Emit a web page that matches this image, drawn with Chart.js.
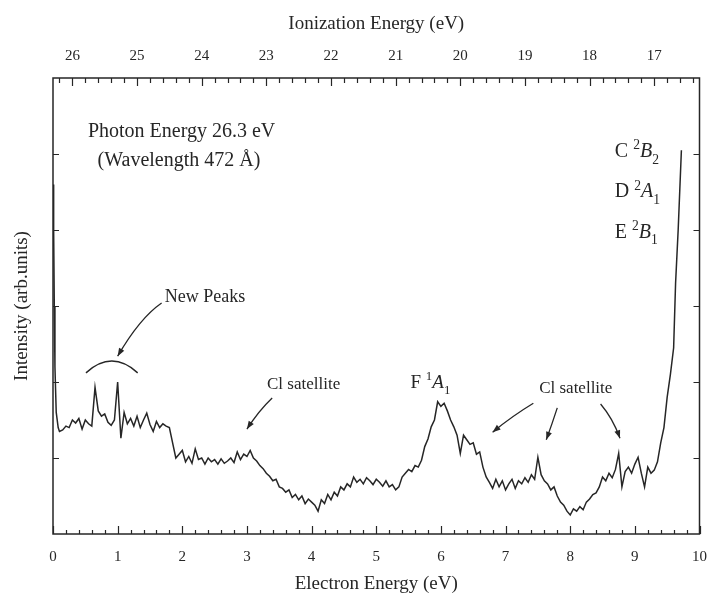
<!DOCTYPE html>
<html>
<head>
<meta charset="utf-8">
<script src="https://cdn.jsdelivr.net/npm/chart.js@4.4.1/dist/chart.umd.min.js"></script>
<style>
  html, body { margin: 0; padding: 0; background: #ffffff; }
  #wrap { width: 713px; height: 599px; }
</style>
</head>
<body>
<div id="wrap"><canvas id="c" width="713" height="599"></canvas></div>
<script>
// Photoelectron spectrum, photon energy 26.3 eV
const photonEnergy = 26.3;

const electronEnergy = [
  0.00, 0.01, 0.02, 0.03, 0.05, 0.08,
  0.10, 0.15, 0.20, 0.25, 0.30, 0.35, 0.40, 0.45, 0.50, 0.55, 0.60, 0.65, 0.70, 0.75,
  0.80, 0.85, 0.90, 0.95, 1.00, 1.05, 1.10, 1.15, 1.20, 1.25, 1.30, 1.35, 1.40, 1.45,
  1.50, 1.55, 1.60, 1.65, 1.70, 1.75, 1.80, 1.85, 1.90, 1.95, 2.00, 2.05, 2.10, 2.15,
  2.20, 2.25, 2.30, 2.35, 2.40, 2.45, 2.50, 2.55, 2.60, 2.65, 2.70, 2.75, 2.80, 2.85,
  2.90, 2.95, 3.00, 3.05, 3.10, 3.15, 3.20, 3.25, 3.30, 3.35, 3.40, 3.45, 3.50, 3.55,
  3.60, 3.65, 3.70, 3.75, 3.80, 3.85, 3.90, 3.95, 4.00, 4.05, 4.10, 4.15, 4.20, 4.25,
  4.30, 4.35, 4.40, 4.45, 4.50, 4.55, 4.60, 4.65, 4.70, 4.75, 4.80, 4.85, 4.90, 4.95,
  5.00, 5.05, 5.10, 5.15, 5.20, 5.25, 5.30, 5.35, 5.40, 5.45, 5.50, 5.55, 5.60, 5.65,
  5.70, 5.75, 5.80, 5.85, 5.90, 5.95, 6.00, 6.05, 6.10, 6.15, 6.20, 6.25, 6.30, 6.35,
  6.40, 6.45, 6.50, 6.55, 6.60, 6.65, 6.70, 6.75, 6.80, 6.85, 6.90, 6.95, 7.00, 7.05,
  7.10, 7.15, 7.20, 7.25, 7.30, 7.35, 7.40, 7.45, 7.50, 7.55, 7.60, 7.65, 7.70, 7.75,
  7.80, 7.85, 7.90, 7.95, 8.00, 8.05, 8.10, 8.15, 8.20, 8.25, 8.30, 8.35, 8.40, 8.45,
  8.50, 8.55, 8.60, 8.65, 8.70, 8.75, 8.80, 8.85, 8.90, 8.95, 9.00, 9.05, 9.10, 9.15,
  9.20, 9.25, 9.30, 9.35, 9.40, 9.45, 9.50, 9.55, 9.60, 9.63, 9.67, 9.72
];

const intensity = [
  4.60, 4.00, 3.00, 2.20, 1.60, 1.40,
  1.35, 1.37, 1.42, 1.40, 1.50, 1.46, 1.52, 1.38, 1.50, 1.45, 1.42, 1.93, 1.62, 1.55,
  1.58, 1.47, 1.43, 1.50, 2.00, 1.26, 1.60, 1.45, 1.52, 1.42, 1.55, 1.40, 1.50, 1.59,
  1.44, 1.35, 1.48, 1.40, 1.45, 1.42, 1.40, 1.20, 1.00, 1.05, 1.10, 0.95, 1.02, 0.93,
  1.12, 0.98, 1.00, 0.92, 1.00, 0.95, 0.98, 0.92, 0.99, 0.93, 0.96, 1.00, 0.94, 1.08,
  0.98, 1.05, 1.02, 1.10, 1.00, 0.96, 0.90, 0.86, 0.80, 0.76, 0.70, 0.72, 0.62, 0.60,
  0.55, 0.58, 0.48, 0.52, 0.45, 0.50, 0.40, 0.46, 0.42, 0.38, 0.30, 0.45, 0.40, 0.52,
  0.45, 0.55, 0.50, 0.62, 0.58, 0.66, 0.62, 0.75, 0.68, 0.72, 0.66, 0.74, 0.70, 0.65,
  0.72, 0.68, 0.63, 0.70, 0.62, 0.65, 0.58, 0.62, 0.75, 0.80, 0.85, 0.82, 0.90, 0.88,
  0.97, 1.15, 1.25, 1.41, 1.50, 1.74, 1.68, 1.72, 1.62, 1.50, 1.41, 1.30, 1.06, 1.30,
  1.24, 1.18, 1.20, 1.05, 1.08, 0.88, 0.75, 0.68, 0.60, 0.72, 0.62, 0.70, 0.58, 0.66,
  0.72, 0.60, 0.70, 0.66, 0.74, 0.68, 0.78, 0.72, 1.01, 0.78, 0.70, 0.66, 0.58, 0.62,
  0.50, 0.42, 0.38, 0.30, 0.25, 0.33, 0.30, 0.36, 0.32, 0.42, 0.46, 0.52, 0.54, 0.62,
  0.75, 0.70, 0.80, 0.74, 0.85, 1.06, 0.62, 0.82, 0.88, 0.80, 0.92, 1.01, 0.80, 0.62,
  0.88, 0.80, 0.84, 0.95, 1.20, 1.40, 1.80, 2.10, 2.45, 3.30, 4.00, 5.05
];

const electronTicks = [0, 1, 2, 3, 4, 5, 6, 7, 8, 9, 10];
const ionizationTicks = [26, 25, 24, 23, 22, 21, 20, 19, 18, 17];
const intensityTicks = [1, 2, 3, 4, 5];

const INK = '#262626';
const SERIF = '"Liberation Serif", "DejaVu Serif", serif';

// Frame, inward tick marks and the figure's annotations
const figurePlugin = {
  id: 'figure',
  afterDraw(chart) {
    const ctx = chart.ctx;
    const xs = chart.scales.x, xt = chart.scales.x2, ys = chart.scales.y;
    const a = chart.chartArea;
    const X = e => xs.getPixelForValue(e);
    const Y = v => ys.getPixelForValue(v);

    ctx.save();
    ctx.strokeStyle = INK;
    ctx.fillStyle = INK;
    ctx.lineWidth = 1.5;
    ctx.strokeRect(a.left, a.top, a.right - a.left, a.bottom - a.top);

    ctx.lineWidth = 1.2;
    ctx.beginPath();
    // bottom axis: major every 1 eV, minor every 0.2 eV
    for (let i = 0; i <= 50; i++) {
      const e = i * 0.2;
      const len = (i % 5 === 0) ? 8 : 4;
      const px = Math.round(X(e)) + 0.5;
      ctx.moveTo(px, a.bottom); ctx.lineTo(px, a.bottom - len);
    }
    // top axis (ionization energy): major every 1 eV, minor every 0.2 eV
    for (let i = 0; i <= 50; i++) {
      const ie = 17 + (i - 3) * 0.2;
      if (ie > photonEnergy || ie < photonEnergy - 10) continue;
      const major = Math.abs(ie - Math.round(ie)) < 1e-6;
      const len = major ? 8 : 5;
      const px = Math.round(xt.getPixelForValue(ie)) + 0.5;
      ctx.moveTo(px, a.top); ctx.lineTo(px, a.top + len);
    }
    // left and right intensity ticks
    intensityTicks.forEach(v => {
      const py = Math.round(Y(v)) + 0.5;
      ctx.moveTo(a.left, py); ctx.lineTo(a.left + 6, py);
      ctx.moveTo(a.right, py); ctx.lineTo(a.right - 6, py);
    });
    ctx.stroke();

    const text = (s, e, v, size, align) => {
      ctx.font = size + 'px ' + SERIF;
      ctx.textAlign = align || 'left';
      ctx.textBaseline = 'middle';
      ctx.fillText(s, X(e), Y(v));
    };

    // rich text with superscripts, italics and subscripts
    const rich = (parts, e, v, size) => {
      let x = X(e);
      const y = Y(v);
      ctx.textAlign = 'left';
      ctx.textBaseline = 'middle';
      parts.forEach(p => {
        let fs = size, dy = 0, style = '';
        if (p.sup) { fs = size * 0.68; dy = -size * 0.3; }
        if (p.sub) { fs = size * 0.68; dy = size * 0.42; }
        if (p.it) style = 'italic ';
        ctx.font = style + fs + 'px ' + SERIF;
        ctx.fillText(p.t, x, y + dy);
        x += ctx.measureText(p.t).width + (p.gap || 0);
      });
    };

    const arrowHead = (x0, y0, x1, y1) => {
      const ang = Math.atan2(y1 - y0, x1 - x0);
      const L = 8, W = 3;
      ctx.beginPath();
      ctx.moveTo(x1, y1);
      ctx.lineTo(x1 - L * Math.cos(ang) + W * Math.sin(ang), y1 - L * Math.sin(ang) - W * Math.cos(ang));
      ctx.lineTo(x1 - L * Math.cos(ang) - W * Math.sin(ang), y1 - L * Math.sin(ang) + W * Math.cos(ang));
      ctx.closePath();
      ctx.fill();
    };

    const arrow = (e0, v0, ec, vc, e1, v1) => {
      const x0 = X(e0), y0 = Y(v0), xc = X(ec), yc = Y(vc), x1 = X(e1), y1 = Y(v1);
      ctx.lineWidth = 1.3;
      ctx.beginPath();
      ctx.moveTo(x0, y0);
      ctx.quadraticCurveTo(xc, yc, x1, y1);
      ctx.stroke();
      arrowHead(xc, yc, x1, y1);
    };

    ctx.fillStyle = INK;
    text('Photon Energy 26.3 eV', 0.54, 5.29, 20);
    text('(Wavelength 472 \u00C5)', 0.69, 4.91, 20);

    // New peaks: bracket over the two peaks and a pointer
    text('New Peaks', 1.73, 3.12, 18);
    ctx.lineWidth = 1.4;
    ctx.beginPath();
    ctx.moveTo(X(0.51), Y(2.12));
    ctx.quadraticCurveTo(X(0.91), Y(2.43), X(1.31), Y(2.12));
    ctx.stroke();
    arrow(1.68, 3.04, 1.34, 2.84, 1.0, 2.34);

    text('Cl satellite', 3.31, 1.97, 17);
    arrow(3.39, 1.79, 3.18, 1.62, 3.0, 1.38);

    rich([{ t: 'F ' }, { t: '1', sup: true }, { t: 'A', it: true }, { t: '1', sub: true }], 5.53, 1.99, 19);

    text('Cl satellite', 7.52, 1.91, 17);
    arrow(7.43, 1.72, 7.10, 1.55, 6.80, 1.34);
    arrow(7.80, 1.66, 7.72, 1.45, 7.63, 1.24);
    arrow(8.47, 1.71, 8.66, 1.52, 8.77, 1.26);

    rich([{ t: 'C ' }, { t: '2', sup: true }, { t: 'B', it: true }, { t: '2', sub: true }], 8.69, 5.03, 20);
    rich([{ t: 'D ' }, { t: '2', sup: true }, { t: 'A', it: true }, { t: '1', sub: true }], 8.69, 4.50, 20);
    rich([{ t: 'E ' }, { t: '2', sup: true }, { t: 'B', it: true }, { t: '1', sub: true }], 8.69, 3.97, 20);

    ctx.restore();
  }
};

const points = electronEnergy.map((e, i) => ({ x: e, y: intensity[i] }));

new Chart(document.getElementById('c'), {
  type: 'line',
  data: {
    datasets: [{
      data: points,
      borderColor: INK,
      borderWidth: 1.5,
      pointRadius: 0,
      tension: 0,
      fill: false
    }]
  },
  options: {
    responsive: false,
    animation: false,
    devicePixelRatio: 1,
    layout: { padding: { left: 0, right: 11, top: 0, bottom: 0 } },
    plugins: { legend: { display: false }, tooltip: { enabled: false } },
    scales: {
      x: {
        type: 'linear',
        position: 'bottom',
        min: 0, max: 10,
        grid: { display: false },
        border: { display: false },
        afterBuildTicks: s => { s.ticks = electronTicks.map(v => ({ value: v })); },
        afterFit: s => { s.height = 65; },
        ticks: { color: INK, font: { family: SERIF, size: 15 }, padding: 6, maxRotation: 0 },
        title: { display: true, text: 'Electron Energy (eV)', color: INK,
                 font: { family: SERIF, size: 19 }, padding: { top: 0, bottom: 4 } }
      },
      x2: {
        type: 'linear',
        position: 'top',
        reverse: true,
        min: photonEnergy - 10, max: photonEnergy,
        grid: { display: false },
        border: { display: false },
        afterBuildTicks: s => { s.ticks = ionizationTicks.map(v => ({ value: v })); },
        afterFit: s => { s.height = 78; },
        ticks: { color: INK, font: { family: SERIF, size: 15 }, padding: 5, maxRotation: 0 },
        title: { display: true, text: 'Ionization Energy (eV)', color: INK,
                 font: { family: SERIF, size: 19 }, padding: { top: 13, bottom: 0 } }
      },
      y: {
        type: 'linear',
        min: 0, max: 6,
        grid: { display: false },
        border: { display: false },
        ticks: { display: false },
        afterFit: s => { s.width = 53; },
        title: { display: true, text: 'Intensity (arb.units)', color: INK,
                 font: { family: SERIF, size: 19 }, padding: { top: 11, bottom: 0 } }
      }
    }
  },
  plugins: [figurePlugin]
});
</script>
</body>
</html>
